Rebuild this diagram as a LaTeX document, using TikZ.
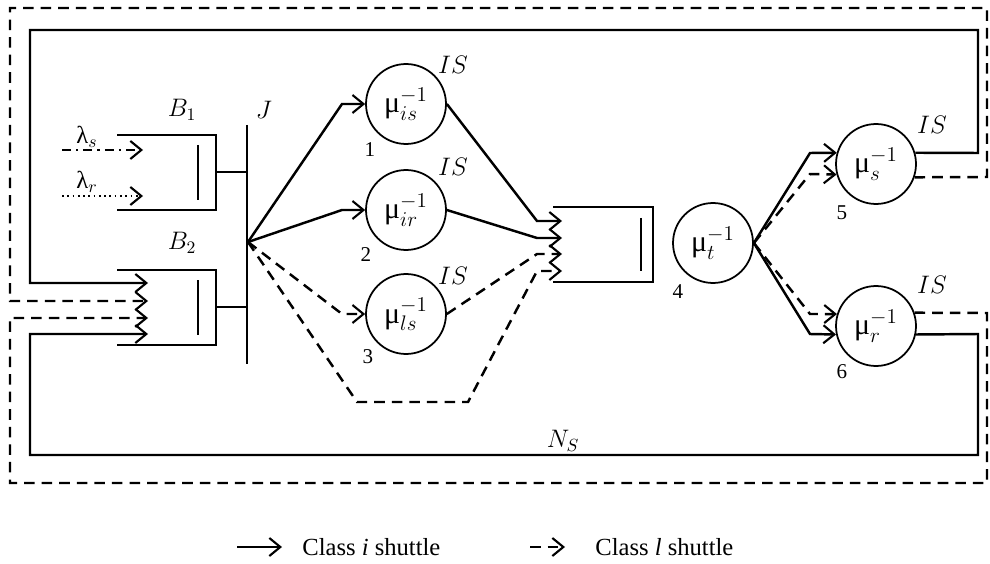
\documentclass[tikz,border=0pt]{standalone}
\usepackage{fontspec}
\setmainfont{Liberation Serif}
\usetikzlibrary{arrows.meta}
\begin{document}
\begin{tikzpicture}[x=0.02cm,y=-0.02cm,
    font=\fontsize{14}{16}\selectfont,
    srv/.style={draw,circle,line width=1pt,minimum size=1.6cm,inner sep=0pt,
        font=\fontsize{17}{19}\selectfont},
    queue/.style={line width=1pt},
    flowi/.style={line width=1.4pt},
    flowl/.style={line width=1.4pt,dash pattern=on 6pt off 4pt},
    tip/.style={-{Straight Barb[length=2.2mm,width=3.6mm,line width=1.2pt]}},
    num/.style={font=\fontsize{12}{14}\selectfont}]
    \useasboundingbox (0,0) rectangle (990,564);

    % Queues B1, B2 and junction J
    \draw[queue] (117,135) -- (216,135) -- (216,210) -- (117,210);
    \draw[queue] (198,145) -- (198,200);
    \draw[queue] (117,270) -- (216,270) -- (216,345) -- (117,345);
    \draw[queue] (198,280) -- (198,335);
    \draw[queue] (247,125) -- (247,364);
    \draw[queue] (216,172) -- (247,172);
    \draw[queue] (216,307) -- (247,307);
    \coordinate (j) at (248,242);
    \node (b1) at (182,110) {$B_1$};
    \node (b2) at (182,243) {$B_2$};
    \node (jl) at (264,110) {$J$};

    % Arrivals
    \coordinate (ls0) at (62,150);
    \coordinate (ls1) at (143,150);
    \coordinate (lr0) at (62,196);
    \coordinate (lr1) at (143,196);
    \draw[line width=1pt,dash pattern=on 5pt off 3pt on 1.2pt off 3pt,tip] (ls0) -- (ls1);
    \draw[line width=1pt,dotted,tip] (lr0) -- (lr1);
    \node (lsl) at (87,137) {λ$_s$};
    \node (lrl) at (87,182) {λ$_r$};

    % Servers
    \node[srv] (sis) at (406,104) {\mbox{μ}$^{-1}_{is}$};
    \node[srv] (sir) at (406,210) {\mbox{μ}$^{-1}_{ir}$};
    \node[srv] (sls) at (406,314) {\mbox{μ}$^{-1}_{ls}$};
    \node[srv] (st) at (713,243) {\mbox{μ}$^{-1}_{t}$};
    \node[srv] (ss) at (876,164) {\mbox{μ}$^{-1}_{s}$};
    \node[srv] (sr) at (876,326) {\mbox{μ}$^{-1}_{r}$};
    \node[num] (n1) at (370,150) {1};
    \node[num] (n2) at (366,255) {2};
    \node[num] (n3) at (368,357) {3};
    \node[num] (n4) at (678,292) {4};
    \node[num] (n5) at (842,213) {5};
    \node[num] (n6) at (842,372) {6};
    \node (is1) at (453,65) {$IS$};
    \node (is2) at (453,167) {$IS$};
    \node (is3) at (453,276) {$IS$};
    \node (is5) at (932,125) {$IS$};
    \node (is6) at (932,285) {$IS$};

    % Queue before server 4
    \draw[queue] (553,207) -- (653,207) -- (653,282) -- (553,282);
    \draw[queue] (641,218) -- (641,271);
    \coordinate (q4a) at (562,221);
    \coordinate (q4b) at (562,238);
    \coordinate (q4c) at (562,254);
    \coordinate (q4d) at (562,271);

    % From J to servers 1-3
    \draw[flowi,tip] (j) -- (342,104) -- (sis);
    \draw[flowi,tip] (j) -- (342,210) -- (sir);
    \draw[flowl,tip] (j) -- (342,314) -- (sls);
    \draw[flowl,tip] (j) -- (357,402) -- (468,402) -- (537,271) -- (q4d);

    % From servers 1-3 to queue
    \draw[flowi,tip] (sis.east) -- (537,221) -- (q4a);
    \draw[flowi,tip] (sir.east) -- (537,238) -- (q4b);
    \draw[flowl,tip] (sls.east) -- (537,254) -- (q4c);

    % From server 4 to servers 5, 6
    \draw[flowi,tip] (st.east) -- (810,153) -- (ss.164);
    \draw[flowl,tip] (st.east) -- (810,174) -- (ss.195);
    \draw[flowl,tip] (st.east) -- (810,314) -- (sr.163);
    \draw[flowi,tip] (st.east) -- (810,334) -- (sr.192);

    % Return loops to B2
    \coordinate (b2a) at (148,283);
    \coordinate (b2b) at (148,301);
    \coordinate (b2c) at (148,318);
    \coordinate (b2d) at (148,334);
    \draw[flowi,tip] (ss.16) -- (978,153) -- (978,30) -- (30,30) -- (30,283) -- (b2a);
    \draw[flowl,tip] (ss.-19) -- (987,177) -- (987,8) -- (10,8) -- (10,301) -- (b2b);
    \draw[flowl,tip] (sr.19) -- (987,313) -- (987,483) -- (10,483) -- (10,318) -- (b2c);
    \draw[flowi,tip] (sr.-12) -- (978,334) -- (978,455) -- (30,455) -- (30,334) -- (b2d);
    \node (ns) at (563,441) {$N_S$};

    % Legend
    \coordinate (li0) at (237,547);
    \coordinate (li1) at (282,547);
    \coordinate (ll0) at (530,547);
    \coordinate (ll1) at (565,547);
    \draw[flowi,tip] (li0) -- (li1);
    \draw[flowl,tip] (ll0) -- (ll1);
    \node[anchor=west,inner sep=0pt] (lit) at (302,547) {Class \textit{i} shuttle};
    \node[anchor=west,inner sep=0pt] (llt) at (595,547) {Class \textit{l} shuttle};
\end{tikzpicture}
\end{document}
